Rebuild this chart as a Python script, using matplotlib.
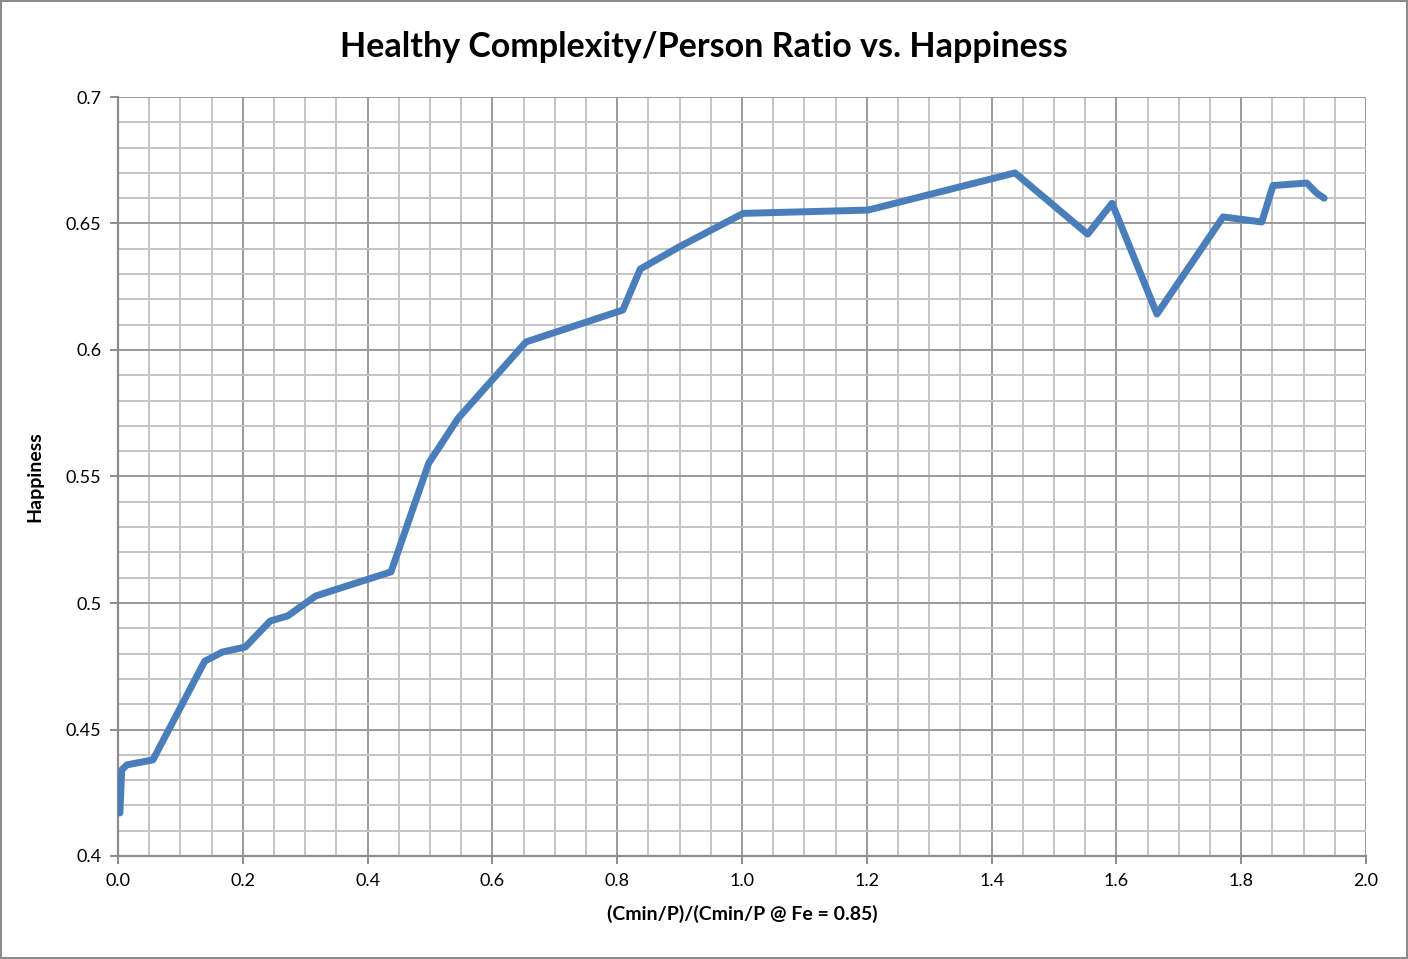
import numpy as np
import matplotlib.pyplot as plt
from matplotlib.ticker import MultipleLocator, FormatStrFormatter
from matplotlib.patches import Rectangle

# values
ratio = [0.003, 0.006, 0.014, 0.056, 0.139, 0.167, 0.204, 0.244, 0.272, 0.317,
         0.4375, 0.498, 0.545, 0.654, 0.809, 0.837, 0.901, 1.002, 1.202, 1.4375,
         1.554, 1.593, 1.665, 1.771, 1.833, 1.851, 1.905, 1.921, 1.933]
happiness = [0.417, 0.434, 0.436, 0.438, 0.477, 0.4806, 0.4826, 0.4929, 0.4949, 0.5028,
             0.5123, 0.5553, 0.573, 0.6032, 0.6158, 0.632, 0.641, 0.654, 0.6553, 0.670,
             0.6458, 0.658, 0.6142, 0.6526, 0.6506, 0.665, 0.666, 0.662, 0.660]

title = 'Healthy Complexity/Person Ratio vs. Happiness'
xlabel = '(Cmin/P)/(Cmin/P @ Fe = 0.85)'
ylabel = 'Happiness'

plt.rcParams['font.family'] = ['Lato', 'DejaVu Sans']

fig = plt.figure(figsize=(14.08, 9.59), dpi=100)
ax = fig.add_axes([118/1408, 103/959, 1248/1408, 759/959])

ax.plot(ratio, happiness, color='#4a7ebb', lw=5.0, solid_joinstyle='round',
        solid_capstyle='round', zorder=3)

ax.set_xlim(0, 2.0)
ax.set_ylim(0.4, 0.7)
ax.xaxis.set_major_locator(MultipleLocator(0.2))
ax.xaxis.set_minor_locator(MultipleLocator(0.05))
ax.yaxis.set_major_locator(MultipleLocator(0.05))
ax.yaxis.set_minor_locator(MultipleLocator(0.01))
ax.xaxis.set_major_formatter(FormatStrFormatter('%.1f'))
ax.set_yticks([0.4, 0.45, 0.5, 0.55, 0.6, 0.65, 0.7])
ax.set_yticklabels(['0.4', '0.45', '0.5', '0.55', '0.6', '0.65', '0.7'])

ax.grid(which='minor', color='#c4c4c4', lw=1.4, zorder=0)
ax.grid(which='major', color='#9a9a9a', lw=1.4, zorder=1)

for s in ['top', 'right']:
    ax.spines[s].set_visible(False)
for s in ['left', 'bottom']:
    ax.spines[s].set_color('#8c8c8c')
    ax.spines[s].set_linewidth(1.6)

ax.tick_params(which='major', length=6, width=1.4, color='#8c8c8c',
               labelsize=13, pad=6)
ax.tick_params(which='minor', length=0)

ax.set_xlabel(xlabel, fontsize=14, fontweight='bold', labelpad=12)
ax.set_ylabel(ylabel, fontsize=14, fontweight='bold', labelpad=16)
fig.text(0.5, 1 - 47/959, title, ha='center', va='center',
         fontsize=24.5, fontweight='bold')

# outer chart border
fig.patches.append(Rectangle((0.001, 0.001), 0.998, 0.998, transform=fig.transFigure,
                             fill=False, edgecolor='#8c8c8c', lw=1.5))

fig.savefig('out.png', dpi=100)
